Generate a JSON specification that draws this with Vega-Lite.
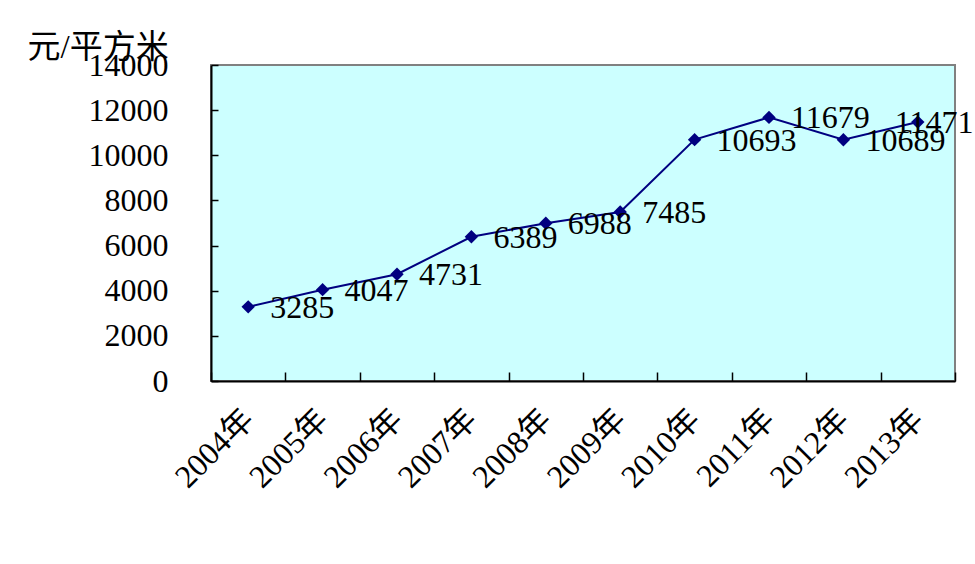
{
  "$schema": "https://vega.github.io/schema/vega-lite/v6.json",
  "width": 744,
  "height": 316,
  "autosize": {"type": "none"},
  "padding": {"left": 211, "top": 65, "right": 20, "bottom": 183},
  "background": "white",
  "config": {
    "view": {"fill": "#CCFFFF", "stroke": "#808080", "strokeWidth": 2},
    "font": "Liberation Serif, Noto Sans CJK SC",
    "axis": {"labelFont": "Liberation Serif, Noto Sans CJK SC", "titleFont": "Liberation Serif, Noto Sans CJK SC", "labelColor": "#000000", "titleColor": "#000000", "domainColor": "#000000", "tickColor": "#000000", "labelFontWeight": "normal", "titleFontWeight": "normal"}
  },
  "data": {
    "values": [
      {"year": "2004年", "price": 3285},
      {"year": "2005年", "price": 4047},
      {"year": "2006年", "price": 4731},
      {"year": "2007年", "price": 6389},
      {"year": "2008年", "price": 6988},
      {"year": "2009年", "price": 7485},
      {"year": "2010年", "price": 10693},
      {"year": "2011年", "price": 11679},
      {"year": "2012年", "price": 10689},
      {"year": "2013年", "price": 11471}
    ]
  },
  "encoding": {
    "x": {
      "field": "year", "type": "nominal", "sort": null,
      "scale": {"paddingInner": 0, "paddingOuter": 0},
      "axis": {"title": null, "labelAngle": -45, "labelAlign": "right", "labelBaseline": "middle", "labelFontSize": 32, "labelPadding": 42, "tickBand": "extent", "tickSize": -9, "domainWidth": 2, "tickWidth": 1.5, "labelColor": "#000000"}
    },
    "y": {
      "field": "price", "type": "quantitative",
      "scale": {"domain": [0, 14000], "nice": false},
      "axis": {"title": "元/平方米", "titleAngle": 0, "titleAlign": "left", "titleBaseline": "alphabetic", "titleX": -184, "titleY": -8, "titleFontSize": 33, "values": [0, 2000, 4000, 6000, 8000, 10000, 12000, 14000], "format": "d", "labelFontSize": 32, "tickSize": -7, "labelPadding": 50, "grid": false, "domainWidth": 2, "tickWidth": 1.5}
    }
  },
  "layer": [
    {"mark": {"type": "line", "color": "#000080", "strokeWidth": 2}},
    {"mark": {"type": "point", "shape": "diamond", "filled": true, "color": "#000080", "size": 180, "opacity": 1}},
    {"transform": [{"filter": "datum.year !== '2013年'"}], "mark": {"type": "text", "align": "left", "baseline": "middle", "dx": 22, "dy": 1, "fontSize": 32, "color": "#000000"}, "encoding": {"text": {"field": "price", "type": "quantitative", "format": "d"}}},
    {"transform": [{"filter": "datum.year === '2013年'"}], "mark": {"type": "text", "align": "left", "baseline": "middle", "dx": -23, "dy": 1, "fontSize": 32, "color": "#000000"}, "encoding": {"text": {"field": "price", "type": "quantitative", "format": "d"}}}
  ]
}
